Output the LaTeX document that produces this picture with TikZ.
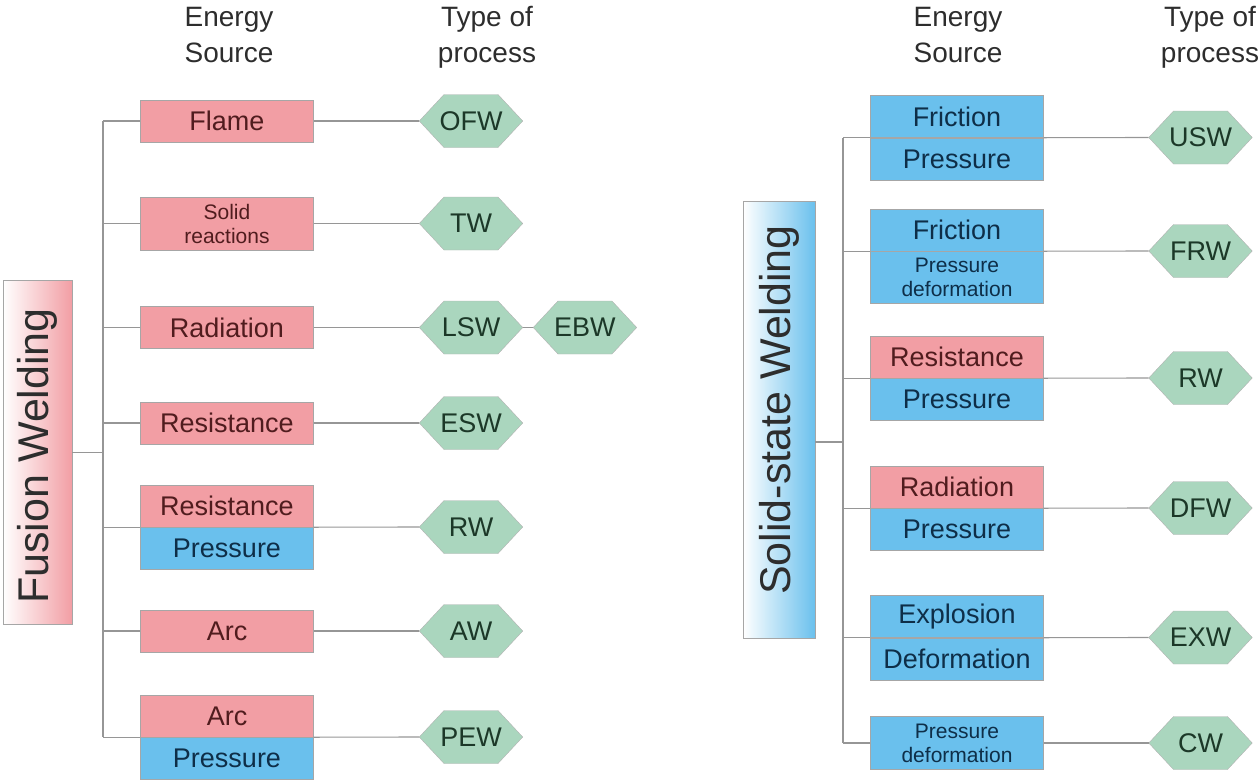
\documentclass[tikz,border=0pt]{standalone}
\usepackage{fontspec}
\setmainfont{Liberation Sans}
\usetikzlibrary{shapes.symbols, positioning}
\definecolor{heatpink}{RGB}{242,158,164}
\definecolor{pressblue}{RGB}{106,192,237}
\definecolor{procgreen}{RGB}{170,214,190}
\definecolor{linegray}{RGB}{150,150,150}
\definecolor{heattext}{RGB}{80,28,30}
\definecolor{presstext}{RGB}{14,46,72}
\definecolor{proctext}{RGB}{28,56,40}
\definecolor{headgray}{RGB}{45,45,45}
\newcommand{\hexlbl}[1]{\makebox[54pt]{#1}}

\begin{document}
\begin{tikzpicture}[x=1pt, y=-1pt,
		conn/.style={draw=linegray, line width=1.1pt},
		src/.style={rectangle, draw=black!35, minimum width=173, minimum height=42, inner sep=0pt, font=\fontsize{27}{30}\selectfont},
		heat/.style={src, fill=heatpink, text=heattext},
		press/.style={src, fill=pressblue, text=presstext},
		twoline/.style={font=\fontsize{21}{24}\selectfont, align=center, minimum height=53},
		proc/.style={signal, signal to=east and west, signal pointer angle=94, draw=black!30, fill=procgreen, text=proctext, minimum height=53, inner sep=0pt, font=\fontsize{27}{30}\selectfont},
		head/.style={align=center, inner sep=0pt, text=headgray, font=\fontsize{28}{36}\selectfont},
		group/.style={rectangle, draw=black!35, inner sep=0pt},
		grouptitle/.style={rotate=90, inner sep=0pt, text=headgray, font=\fontsize{43}{48}\selectfont}
		]
		\useasboundingbox (0,0) rectangle (1259,780);
		
		\node[head] (esL) at (229,35) {Energy\\Source};
		\node[head] (tpL) at (487,37) {Type of\\process};
		\node[head] (esR) at (958,35) {Energy\\Source};
		\node[head] (tpR) at (1210,37) {Type of\\process};
		
		% fusion welding
		\node[group, left color=white, right color=heatpink, minimum width=69, minimum height=344] (fw) at (37.5,452.5) {};
		\node[grouptitle] (fwt) at (37.5,456) {Fusion Welding};
		
		\foreach \y/\n/\t in {121/flame/Flame, 327.5/rad/Radiation, 423/res/Resistance, 631/arc/Arc}
		\node[heat] (\n) at (227,\y) {\t};
		\node[heat, twoline] (solid) at (227,223.5) {Solid\\reactions};
		\node[heat] (rpT) at (227,506) {Resistance};
		\node[press, below=0pt of rpT] (rpB) {Pressure};
		\node[heat] (apT) at (227,716) {Arc};
		\node[press, below=0pt of apT] (apB) {Pressure};
		
		\foreach \y/\n/\t in {121/ofw/OFW, 223.5/tw/TW, 327.5/lsw/LSW, 423/esw/ESW, 527/rwL/RW, 631/aw/AW, 737/pew/PEW}
		\node[proc] (\n) at (471,\y) {\hexlbl{\t}};
		\node[proc, right=10pt of lsw] (ebw) {\hexlbl{EBW}};
		
		\foreach \a/\b in {flame/ofw, solid/tw, rad/lsw, res/esw, arc/aw}
		\draw[conn] (\a.east) -- (\b.west);
		\draw[conn] (lsw.east) -- (ebw.west);
		\draw[conn] (rpT.south east) -- (rwL.west);
		\draw[conn] (apT.south east) -- (pew.west);
		
		\coordinate (trL) at (103,0);
		\draw[conn] (flame.west -| trL) -- (apT.south west -| trL);
		\foreach \n in {flame, solid, rad, res, arc}
		\draw[conn] (\n.west) -- (\n.west -| trL);
		\draw[conn] (rpT.south west) -- (rpT.south west -| trL);
		\draw[conn] (apT.south west) -- (apT.south west -| trL);
		\draw[conn] (fw.east) -- (fw.east -| trL);
		
		% solid-state welding
		\node[group, left color=white, right color=pressblue, minimum width=72, minimum height=437] (ssw) at (779,419.5) {};
		\node[grouptitle] (sswt) at (779,410) {Solid-state Welding};
		
		\node[press] (fpT) at (957,116.5) {Friction};
		\node[press, below=0pt of fpT] (fpB) {Pressure};
		\node[press] (fdT) at (957,230) {Friction};
		\node[press, twoline, minimum height=52, below=0pt of fdT] (fdB) {Pressure\\deformation};
		\node[heat] (rsT) at (957,357) {Resistance};
		\node[press, below=0pt of rsT] (rsB) {Pressure};
		\node[heat] (rdT) at (957,487) {Radiation};
		\node[press, below=0pt of rdT] (rdB) {Pressure};
		\node[press] (edT) at (957,616.5) {Explosion};
		\node[press, below=0pt of edT] (edB) {Deformation};
		\node[press, twoline] (pd) at (957,743) {Pressure\\deformation};
		
		\foreach \y/\n/\t in {137.5/usw/USW, 251/frw/FRW, 378/rwR/RW, 508/dfw/DFW, 637.5/exw/EXW, 743/cw/CW}
		\node[proc] (\n) at (1200.5,\y) {\hexlbl{\t}};
		
		\foreach \a/\b in {fpT/usw, fdT/frw, rsT/rwR, rdT/dfw, edT/exw}
		\draw[conn] (\a.south east) -- (\b.west);
		\draw[conn] (pd.east) -- (cw.west);
		
		\coordinate (trR) at (843,0);
		\draw[conn] (fpT.south west -| trR) -- (pd.west -| trR);
		\foreach \a in {fpT, fdT, rsT, rdT, edT}
		\draw[conn] (\a.south west) -- (\a.south west -| trR);
		\draw[conn] (pd.west) -- (pd.west -| trR);
		\draw[conn] (ssw.east |- 0,442) -- (trR |- 0,442);
\end{tikzpicture}
\end{document}
